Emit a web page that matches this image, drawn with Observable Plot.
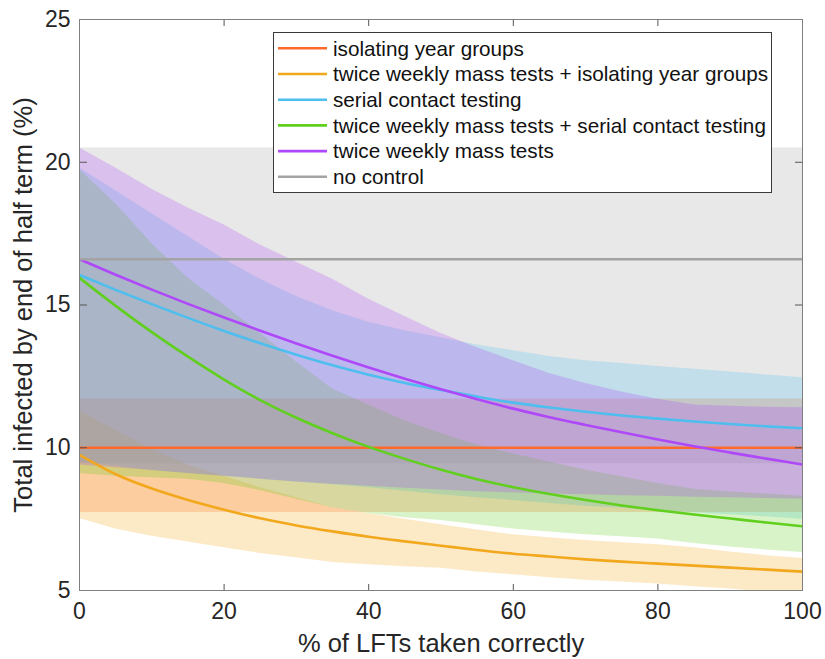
<!DOCTYPE html>
<html>
<head>
<meta charset="utf-8">
<script src="https://cdn.jsdelivr.net/npm/d3@7"></script>
<script src="https://cdn.jsdelivr.net/npm/@observablehq/plot@0.6"></script>
<style>
  html, body { margin: 0; padding: 0; background: #fff; }
  #chart { position: relative; width: 825px; height: 659px; font-family: "Liberation Sans", Arial, Helvetica, sans-serif; }
  #legend { position: absolute; left: 0; top: 0; pointer-events: none; }
</style>
</head>
<body>
<div id="chart"></div>
<script>
// ---- data ----
const xs = [0,5,10,15,20,25,30,35,40,45,50,55,60,65,70,75,80,85,90,95,100];

const seriesNames = [
  "isolating year groups",
  "twice weekly mass tests + isolating year groups",
  "serial contact testing",
  "twice weekly mass tests + serial contact testing",
  "twice weekly mass tests",
  "no control"
];
const seriesColors = ["#FF6A2C", "#F2A81D", "#4DBEEE", "#60CF1E", "#AE48F8", "#A3A3A3"];

// constant series
const noControlMedian = 16.6, noControlLo = 9.44, noControlHi = 20.5;
const isoMedian = 10.0, isoLo = 7.73, isoHi = 11.71;

// twice weekly mass tests + isolating year groups
const twIsoMedian = [9.75,9.07,8.57,8.17,7.83,7.53,7.28,7.07,6.88,6.72,6.57,6.42,6.29,6.19,6.09,6.01,5.94,5.87,5.8,5.73,5.66];
const twIsoHi     = [11.3,10.6,9.95,9.4,9.0,8.6,8.25,7.9,7.7,7.5,7.3,7.12,6.95,6.85,6.75,6.67,6.6,6.5,6.35,6.22,6.12];
const twIsoLo     = [7.52,7.15,6.9,6.7,6.5,6.3,6.15,5.98,5.9,5.83,5.78,5.65,5.55,5.45,5.36,5.3,5.23,5.13,5.05,4.95,4.85];

// serial contact testing
const serialMedian = [16.05,15.53,15.03,14.55,14.09,13.66,13.26,12.89,12.56,12.27,12.02,11.79,11.58,11.41,11.26,11.13,11.02,10.92,10.83,10.75,10.68];
const serialHi     = [19.8,19.0,18.2,17.4,16.6,15.9,15.3,14.8,14.4,14.1,13.85,13.6,13.4,13.2,13.05,12.95,12.85,12.75,12.65,12.55,12.45];
const serialLo     = [9.5,9.35,9.2,9.1,9.0,8.9,8.8,8.7,8.6,8.48,8.35,8.25,8.15,8.05,7.95,7.88,7.8,7.72,7.65,7.58,7.5];

// twice weekly mass tests + serial contact testing
const twSerialMedian = [15.95,14.97,14.05,13.19,12.39,11.67,11.05,10.51,10.03,9.61,9.23,8.9,8.62,8.38,8.17,7.98,7.81,7.66,7.52,7.38,7.25];
const twSerialHi     = [19.75,18.55,17.15,15.95,15.0,14.0,13.0,12.06,11.5,10.95,10.5,10.1,9.78,9.5,9.22,8.98,8.75,8.55,8.45,8.38,8.3];
const twSerialLo     = [9.1,9.0,8.95,8.9,8.75,8.5,8.2,7.9,7.7,7.55,7.45,7.3,7.15,7.05,6.95,6.88,6.8,6.65,6.52,6.42,6.33];

// twice weekly mass tests
const twMedian = [16.6,16.06,15.54,15.04,14.56,14.1,13.65,13.22,12.81,12.42,12.05,11.7,11.37,11.07,10.8,10.54,10.29,10.05,9.83,9.62,9.41];
const twHi     = [20.5,19.8,19.05,18.4,17.8,17.1,16.5,15.9,15.2,14.6,14.0,13.5,13.05,12.6,12.25,11.95,11.7,11.5,11.45,11.42,11.4];
const twLo     = [9.4,9.3,9.2,9.1,9.0,8.9,8.8,8.72,8.65,8.58,8.52,8.46,8.42,8.38,8.35,8.32,8.3,8.27,8.25,8.22,8.2];

const xTicks = [0,20,40,60,80,100];
const yTicks = [5,10,15,20,25];
const xLabel = "% of LFTs taken correctly";
const yLabel = "Total infected by end of half term (%)";

// ---- tables ----
const xEnds = [xs[0], xs[xs.length - 1]];
const constTable = (m, lo, hi) => xEnds.map(x => ({x, m, lo, hi}));
const varTable = (m, lo, hi) => xs.map((x, i) => ({x, m: m[i], lo: lo[i], hi: hi[i]}));

const tables = [
  constTable(isoMedian, isoLo, isoHi),
  varTable(twIsoMedian, twIsoLo, twIsoHi),
  varTable(serialMedian, serialLo, serialHi),
  varTable(twSerialMedian, twSerialLo, twSerialHi),
  varTable(twMedian, twLo, twHi),
  constTable(noControlMedian, noControlLo, noControlHi)
];

const fillOrder = [5, 0, 1, 2, 3, 4];
const lineOrder = [0, 1, 2, 3, 4, 5];

const axisColor = "#262626";
const marks = [];
for (const i of fillOrder) {
  marks.push(Plot.areaY(tables[i], {x: "x", y1: "lo", y2: "hi", fill: seriesColors[i], fillOpacity: 0.25, curve: "linear", clip: true}));
}
for (const i of lineOrder) {
  marks.push(Plot.lineY(tables[i], {x: "x", y: "m", stroke: seriesColors[i], strokeWidth: 2.6, curve: "monotone-x", clip: true}));
}
// inward ticks on all four sides
marks.push(Plot.axisX(xTicks, {anchor: "top", frameAnchor: "bottom", tickSize: 7, fill: "none", stroke: "#555", label: null}));
marks.push(Plot.axisX(xTicks, {anchor: "bottom", frameAnchor: "top", tickSize: 7, fill: "none", stroke: "#555", label: null}));
marks.push(Plot.axisY(yTicks, {anchor: "right", frameAnchor: "left", tickSize: 7, fill: "none", stroke: "#555", label: null}));
marks.push(Plot.axisY(yTicks, {anchor: "left", frameAnchor: "right", tickSize: 7, fill: "none", stroke: "#555", label: null}));
// tick labels
marks.push(Plot.axisX(xTicks, {anchor: "bottom", tickSize: 0, tickPadding: 12, fontSize: 23, color: axisColor, label: null}));
marks.push(Plot.axisY(yTicks, {anchor: "left", tickSize: 0, tickPadding: 9, fontSize: 23, color: axisColor, label: null}));
marks.push(Plot.frame({stroke: "#808080", strokeWidth: 1}));
// axis titles
marks.push(Plot.text([xLabel], {text: d => d, frameAnchor: "bottom", dy: 53, fontSize: 25.5, fill: axisColor, lineAnchor: "middle"}));
marks.push(Plot.text([yLabel], {text: d => d, frameAnchor: "left", dx: -56, rotate: -90, textAnchor: "middle", fontSize: 25.5, fill: axisColor, lineAnchor: "middle"}));

const plot = Plot.plot({
  width: 825,
  height: 659,
  marginLeft: 79,
  marginRight: 23,
  marginTop: 19,
  marginBottom: 69,
  x: {domain: [0, 100]},
  y: {domain: [5, 25]},
  style: {fontFamily: "'Liberation Sans', Arial, Helvetica, sans-serif", background: "#fff", overflow: "visible"},
  marks
});

const chart = document.getElementById("chart");
chart.appendChild(plot);

// ---- legend (inside the axes, top right) ----
const legend = d3.select(chart).append("svg")
  .attr("id", "legend")
  .attr("width", 825).attr("height", 659);
legend.append("rect")
  .attr("x", 273.5).attr("y", 32.5).attr("width", 498).attr("height", 160)
  .attr("fill", "#fff").attr("stroke", "#3a3a3a").attr("stroke-width", 1);
const rowY = i => 48.3 + i * 25.7;
seriesNames.forEach((name, i) => {
  legend.append("line")
    .attr("x1", 278).attr("x2", 327).attr("y1", rowY(i)).attr("y2", rowY(i))
    .attr("stroke", seriesColors[i]).attr("stroke-width", 2.6);
  legend.append("text")
    .attr("x", 333).attr("y", rowY(i)).attr("dy", "0.35em")
    .attr("font-family", "'Liberation Sans', Arial, Helvetica, sans-serif")
    .attr("font-size", 20.7).attr("fill", "#111")
    .text(name);
});
</script>
</body>
</html>
